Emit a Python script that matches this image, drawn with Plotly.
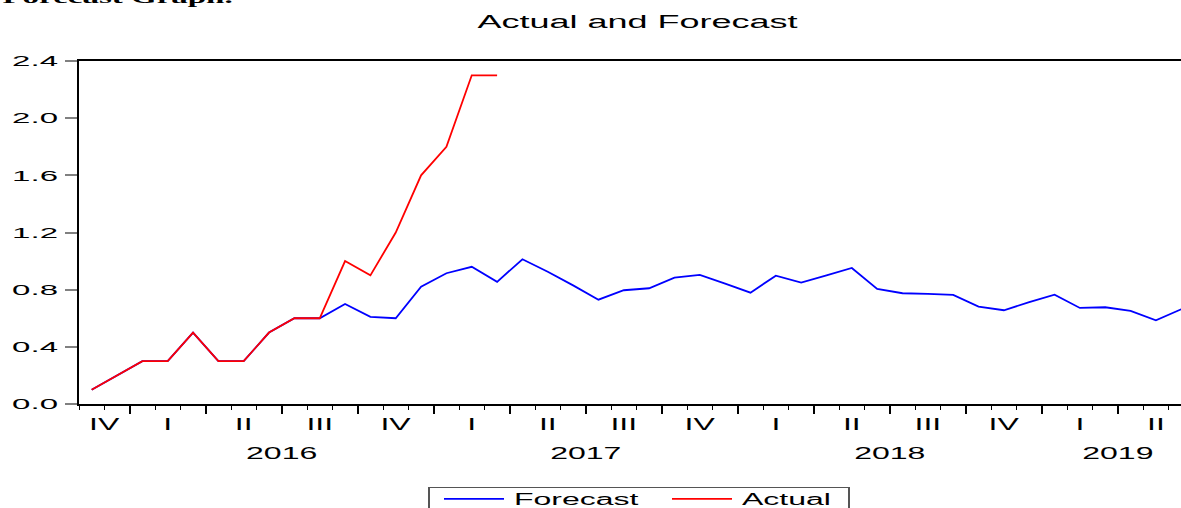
import pandas as pd
import plotly.graph_objects as go

# ---- data -------------------------------------------------------------
start_month = "2015-11"

actual = [0.1, 0.2, 0.3, 0.3, 0.5, 0.3, 0.3, 0.5, 0.6, 0.6,
          1.0, 0.9, 1.2, 1.6, 1.8, 2.3, 2.3]

forecast = [0.1, 0.2, 0.3, 0.3, 0.5, 0.3, 0.3, 0.5, 0.6, 0.6,
            0.70, 0.61, 0.60, 0.82, 0.915, 0.96, 0.855, 1.013, 0.925, 0.83,
            0.73, 0.796, 0.81, 0.884, 0.903, 0.842, 0.779, 0.898, 0.849, 0.90,
            0.952, 0.805, 0.775, 0.77, 0.763, 0.681, 0.656, 0.713, 0.765, 0.672,
            0.677, 0.651, 0.586, 0.663]

y_ticks = [0.0, 0.4, 0.8, 1.2, 1.6, 2.0, 2.4]
roman = {1: "I", 2: "II", 3: "III", 4: "IV"}

# ---- monthly time axis (one unit per month, points at month centres) ----
months = pd.period_range(start_month, periods=len(forecast), freq="M")
idx = list(range(len(months)))
x_fc = [i + 0.5 for i in idx]
x_ac = x_fc[:len(actual)]

quarter_starts = [i for i, m in zip(idx, months) if m.month in (1, 4, 7, 10)]

q_groups, y_groups = {}, {}
for i, m in zip(idx, months):
    q_groups.setdefault((m.year, m.quarter), []).append(i)
    y_groups.setdefault(m.year, []).append(i)
q_pos = [sum(v) / len(v) + 0.5 for v in q_groups.values()]
q_txt = [roman[k[1]] for k in q_groups]
# a year is only labelled when at least a quarter of it is on the axis
yr_items = [(k, v) for k, v in y_groups.items() if len(v) >= 3]
yr_pos = [sum(v) / len(v) + 0.5 for _, v in yr_items]
yr_txt = [str(k) for k, _ in yr_items]

x_range = [0, 43.49]
FONT = "Liberation Sans, Arial, sans-serif"

fig = go.Figure()
fig.add_trace(go.Scatter(x=x_fc, y=forecast, mode="lines", name="Forecast",
                         line=dict(color="#0000ff", width=1.8)))
fig.add_trace(go.Scatter(x=x_ac, y=actual, mode="lines", name="Actual",
                         line=dict(color="#ff0000", width=1.8)))
# empty carriers so the quarter and year label axes get drawn
fig.add_trace(go.Scatter(x=q_pos, y=[None] * len(q_pos), xaxis="x2", mode="lines",
                         showlegend=False, hoverinfo="skip"))
fig.add_trace(go.Scatter(x=yr_pos, y=[None] * len(yr_pos), xaxis="x3", mode="lines",
                         showlegend=False, hoverinfo="skip"))

fig.update_layout(
    width=1181, height=508,
    margin=dict(l=79, r=0, t=61, b=104, autoexpand=False),
    paper_bgcolor="white", plot_bgcolor="white",
    font=dict(family=FONT, color="black"),
    title=dict(text="Actual and Forecast", font=dict(size=18, family=FONT),
               xref="container", x=637.5 / 1181, xanchor="center",
               yref="container", y=1 - 21.5 / 508, yanchor="middle"),
    xaxis=dict(range=x_range, showgrid=False, zeroline=False,
               showline=True, linecolor="black", linewidth=2, mirror=True,
               ticks="outside", tickmode="array", tickvals=quarter_starts,
               ticklen=8, tickwidth=1.5, tickcolor="black",
               showticklabels=False,
               minor=dict(ticks="outside", ticklen=4, tickwidth=1,
                          tickcolor="black", tickmode="linear",
                          tick0=0, dtick=1, showgrid=False)),
    xaxis2=dict(overlaying="x", anchor="y", side="bottom", range=x_range,
                showgrid=False, zeroline=False, showline=False, ticks="",
                tickmode="array", tickvals=q_pos, ticktext=q_txt,
                tickfont=dict(size=16, family=FONT), ticklabelstandoff=9),
    xaxis3=dict(overlaying="x", anchor="y", side="bottom", range=x_range,
                showgrid=False, zeroline=False, showline=False, ticks="",
                tickmode="array", tickvals=yr_pos, ticktext=yr_txt,
                tickfont=dict(size=16, family=FONT), ticklabelstandoff=38),
    yaxis=dict(range=[0, 2.4], showgrid=False, zeroline=False,
               showline=True, linecolor="black", linewidth=2,
               tickmode="array", tickvals=y_ticks,
               ticktext=[f"{v:.1f}" for v in y_ticks],
               ticks="outside", ticklen=12, tickwidth=1.5, tickcolor="#808080",
               tickfont=dict(size=15, family=FONT), ticklabelstandoff=4),
    legend=dict(orientation="h", x=(428 - 79) / 1102, xanchor="left",
                y=(404 - 487) / 343, yanchor="top",
                bordercolor="#555555", borderwidth=1, bgcolor="white",
                font=dict(size=16, family=FONT),
                entrywidth=69, entrywidthmode="pixels"),
    annotations=[dict(text="<b>Forecast Graph.</b>", xref="paper", yref="paper",
                      x=(117 - 79) / 1102, y=(404 - 9) / 343,
                      xanchor="center", yanchor="bottom", showarrow=False,
                      font=dict(size=16.5, family="Liberation Serif, Times New Roman, serif",
                                color="black"))],
)

# widen the lettering (wide, flat type) and the legend block horizontally
post = """
var gd = document.getElementById('{plot_id}');
function widen(el, s) {
  var b = el.getBBox();
  var a = el.getAttribute('text-anchor') || 'start';
  var cx = a === 'end' ? b.x + b.width : (a === 'middle' ? b.x + b.width / 2 : b.x);
  var t = el.getAttribute('transform') || '';
  el.setAttribute('transform', t + ' translate(' + cx + ',0) scale(' + s + ',1) translate(' + (-cx) + ',0)');
}
gd.querySelectorAll('.xtick text, .x2tick text, .x3tick text, .gtitle, .annotation-text')
  .forEach(function (el) { widen(el, 2); });
gd.querySelectorAll('.ytick text').forEach(function (el) { widen(el, 2.2); });
var lg = gd.querySelector('g.legend');
if (lg) {
  lg.setAttribute('transform', (lg.getAttribute('transform') || '') + ' scale(2,1)');
  var bg = lg.querySelector('rect.bg');
  if (bg) { bg.setAttribute('width', 210); }
  var sb = lg.querySelector('g.scrollbox');
  if (sb) { sb.setAttribute('transform', (sb.getAttribute('transform') || '') + ' translate(2,-6)'); }
}
"""

fig.write_html("out.html", post_script=post)
